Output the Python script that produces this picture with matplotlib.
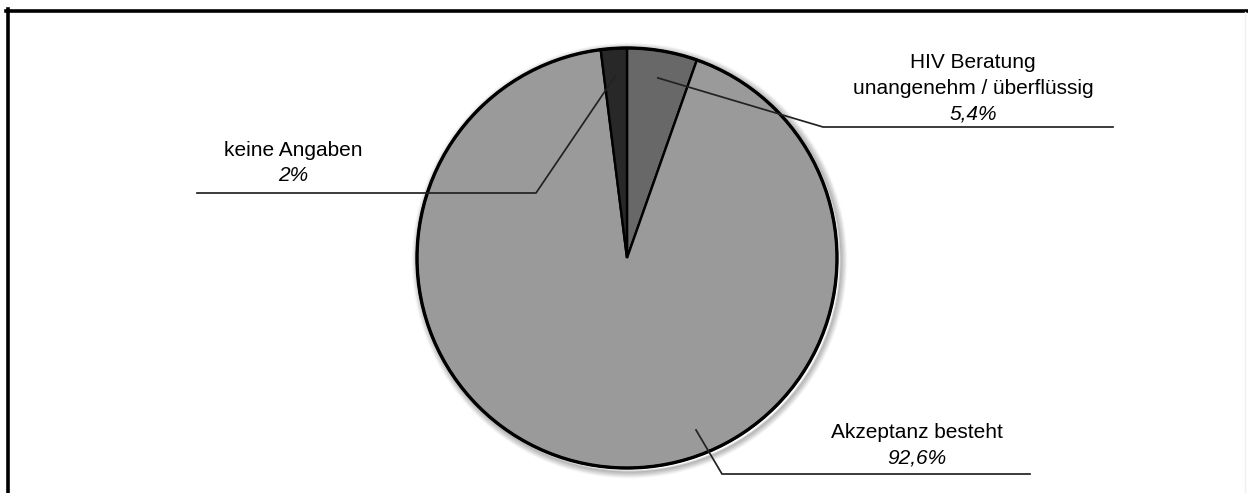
import numpy as np
import matplotlib
matplotlib.use("Agg")
import matplotlib.pyplot as plt
from matplotlib.patches import Circle
from matplotlib.lines import Line2D

# Survey answers on HIV counselling
categories = ["HIV Beratung\nunangenehm / überflüssig", "Akzeptanz besteht", "keine Angaben"]
shares = [5.4, 92.6, 2.0]
share_labels = ["5,4%", "92,6%", "2%"]
colors = ["#686868", "#9a9a9a", "#282828"]

W, H = 1248, 493
fig = plt.figure(figsize=(W / 100, H / 100), dpi=100)
ax = fig.add_axes([0, 0, 1, 1])


def py(y):
    """Convert a top-down pixel row into the upward axis coordinate."""
    return H - y


cx, cy, R = 627, py(258), 210

# soft drop shadow below the disc
for i, a in enumerate(np.linspace(0.16, 0.02, 7)):
    ax.add_patch(Circle((cx + 2.5, cy - 2.5), R + 1 + i, facecolor="none",
                        edgecolor="black", lw=1.5, alpha=a, zorder=1))

wedges, _ = ax.pie(shares, colors=colors, startangle=90, counterclock=False,
                   center=(cx, cy), radius=R, frame=True,
                   wedgeprops=dict(edgecolor="black", linewidth=1.7))
for w in wedges:
    w.set_zorder(2)
ax.add_patch(Circle((cx, cy), R, facecolor="none", edgecolor="black", lw=2.4, zorder=3))
ax.set_xlim(0, W)
ax.set_ylim(0, H)
ax.set_aspect("equal")
ax.axis("off")

# label layout: leader start (None = inside the wedge's middle), elbow, line end, text centre
layout = [
    dict(start=None, elbow=(823, 127), end=(1113, 127), text=(973, 63)),
    dict(start=(696, 430), elbow=(722, 474), end=(1030, 474), text=(917, 432)),
    dict(start=None, elbow=(536, 193), end=(197, 193), text=(293, 150)),
]

for w, cat, lab, lay in zip(wedges, categories, share_labels, layout):
    if lay["start"] is None:
        mid = np.deg2rad((w.theta1 + w.theta2) / 2)
        sx, sy = cx + 0.87 * R * np.cos(mid), cy + 0.87 * R * np.sin(mid)
    else:
        sx, sy = lay["start"][0], py(lay["start"][1])
    ex, ey = lay["elbow"][0], py(lay["elbow"][1])
    tx, ty = lay["end"][0], py(lay["end"][1])
    ax.plot([sx, ex, tx], [sy, ey, ty], color="#222222", lw=1.25,
            solid_joinstyle="miter", zorder=4)
    lines = cat.split("\n")
    x0, y0 = lay["text"]
    step = 25.5
    for k, line in enumerate(lines):
        ax.text(x0, py(y0 + k * step), line, ha="center", va="center",
                fontsize=15, family="Liberation Sans", color="black", zorder=5)
    ax.text(x0, py(y0 + len(lines) * step), lab, ha="center", va="center",
            fontsize=15, family="Liberation Sans", style="italic",
            color="black", zorder=5)

# outer frame (top and left edges)
fig.add_artist(Line2D([6 / W, 1.0], [1 - 10.5 / H] * 2, transform=fig.transFigure,
                      color="black", lw=2.6))
fig.add_artist(Line2D([7.5 / W] * 2, [1 - 9 / H, 0], transform=fig.transFigure,
                      color="black", lw=2.6))
fig.add_artist(Line2D([1244.5 / W] * 2, [1 - 12 / H, 0], transform=fig.transFigure,
                      color="#f0f0f0", lw=1.0))

fig.savefig("out.png", dpi=100, facecolor="white")
